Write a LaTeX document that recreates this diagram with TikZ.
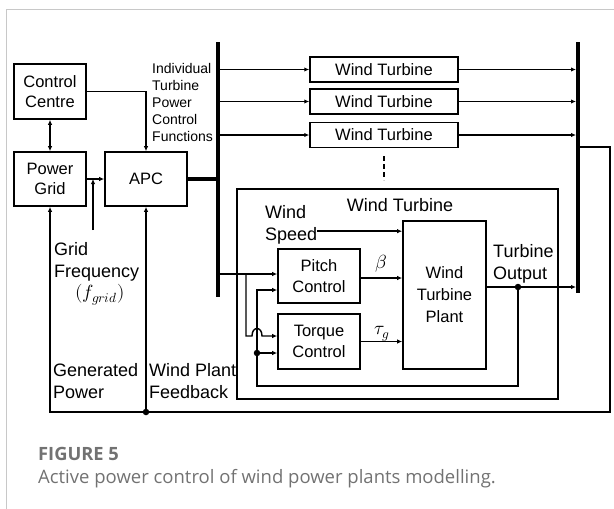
\documentclass[tikz,border=0pt]{standalone}
\usepackage{fontspec}
\usepackage{unicode-math}
\setmainfont{Liberation Sans}
\setmathfont{Latin Modern Math}
\newfontfamily\capfont{Open Sans}
\usetikzlibrary{positioning,arrows.meta,calc}
\definecolor{frameG}{HTML}{C8C8C8}
\definecolor{capG}{HTML}{727272}

\begin{document}
\begin{tikzpicture}[
    x=1pt, y=-1pt,
    >={Latex[length=5pt,width=4.5pt]},
    blk/.style={draw,line width=1.7pt,inner sep=0pt,align=center,
                font=\fontsize{16.5}{20.5}\selectfont},
    lbl/.style={inner sep=0pt,align=left,anchor=north west,
                font=\fontsize{18}{22}\selectfont},
    sym/.style={inner sep=0pt,font=\fontsize{19}{22}\selectfont},
    flow/.style={->,line width=1.4pt},
    bus/.style={line width=4pt},
    jdot/.style={circle,fill,inner sep=0pt,minimum size=6.5pt},
]
\useasboundingbox (0,0) rectangle (614,509);

% page frame (top and left only)
\draw[frameG,line width=1pt] (6,509) -- (6,9) -- (614,9);

% =====================================================================
%  plant level: control centre, grid, APC
% =====================================================================
\node[blk,minimum width=72,minimum height=55] (cc)  at (50,91.5) {Control\\Centre};
\node[blk,minimum width=72,minimum height=54] (pg)  at (50,179)  {Power\\Grid};
\node[blk,minimum width=82,minimum height=54] (apc) at (146,179) {APC};

\draw[<->,line width=1.4pt] (cc) -- (pg);
\draw[flow] (cc.east) -| (apc.north);
\draw[flow] (pg.east) -- (apc.west);

% grid frequency measurement
\coordinate (gf) at (93,230);
\draw[flow] (gf) -- (gf |- pg.east);
\node[lbl] (gfl) at (54,242) {Grid\\Frequency};
\node[sym,anchor=base] (fgr) at (100,298) {$(f_{grid})$};

% =====================================================================
%  busbars and the turbine rows
% =====================================================================
\coordinate (lbT) at (218,42);  \coordinate (lbB) at (218,297);
\coordinate (rbT) at (578,42);  \coordinate (rbB) at (578,293);
\draw[bus] (lbT) -- (lbB);
\draw[bus] (rbT) -- (rbB);
\draw[bus] (apc.east) -- (apc.east -| lbT);

\node[lbl,font=\fontsize{14}{17}\selectfont] (ipc) at (152,63)
     {Individual\\Turbine\\Power\\Control\\Functions};

\foreach \y/\n in {69.5/wt1,101.5/wt2,135/wt3} {
   \node[blk,line width=1.5pt,minimum width=148,minimum height=25] (\n) at (384,\y) {Wind Turbine};
   \draw[flow] (\n.west -| lbT) -- (\n.west);
   \draw[flow,shorten >=2pt] (\n.east) -- (\n.east -| rbT);
}
\draw[line width=1.6pt,dash pattern=on 5pt off 3pt] ([yshift=-8pt]wt3.south) -- ++(0,24);

% =====================================================================
%  one wind turbine in detail
% =====================================================================
\node[draw,line width=1.7pt,minimum width=321,minimum height=210,inner sep=0pt] (wtbox) at (397.5,294) {};
\node[font=\fontsize{18}{22}\selectfont,anchor=base] (wttl) at (400,211) {Wind Turbine};

\node[blk,minimum width=82,minimum height=54] (pitch)  at (319,276)   {Pitch\\Control};
\node[blk,minimum width=82,minimum height=55] (torque) at (319,341.5) {Torque\\Control};
\node[blk,minimum width=83,minimum height=148,font=\fontsize{16.5}{22}\selectfont]
     (plant) at (444.5,295) {Wind\\Turbine\\Plant};

% wind speed input
\node[lbl] (wspd) at (265,205) {Wind\\Speed};
\coordinate (wsout) at ([yshift=13pt]wspd.south east);
\draw[flow] (wsout) -- (wsout -| plant.west);

% actuator signals
\coordinate (beta) at ([yshift=-2pt]pitch.east);
\draw[flow] (beta) -- (beta -| plant.west);
\node[sym,anchor=base] (betal) at (381,268) {$\beta$};
\draw[flow] (torque.east) -- (torque.east -| plant.west);
\node[sym,anchor=base] (taul) at (382,334) {$\tau_g$};

% set-point from the left bus, branch to torque with a hop
\coordinate (pin1) at ([yshift=2pt]pitch.west);
\coordinate (tin1) at ([yshift=5.5pt]torque.west);
\coordinate (br) at (246,274);
\draw[flow] (pin1 -| lbT) -- (pin1);
\draw[flow] (br) -- (br |- tin1) -- (252,336) .. controls (252,326) and (262,326) .. (262,336) -- (tin1);

% turbine output and local feedback
\coordinate (out) at ([yshift=8pt]plant.east);
\draw[flow,shorten >=2pt] (out) -- (out -| rbT);
\node[lbl] (tout) at (493,244) {Turbine\\Output};
\node[jdot] (fbj) at (518,287) {};
\coordinate (fbc) at (257,386);
\coordinate (pin2) at ([yshift=-14pt]pitch.west);
\draw[flow] (fbj) |- (fbc) |- (pin2);
\node[jdot] (tdot) at (257,353) {};
\draw[flow] (tdot) -- (tdot -| torque.west);

% =====================================================================
%  plant feedback to grid and APC
% =====================================================================
\coordinate (rbo) at (578,147);
\coordinate (rc1) at (610,147);
\coordinate (rc2) at (610,412);
\draw[flow] (rbo) -- (rc1) -- (rc2) -| (pg.south);
\node[jdot] (fdot) at (146,412) {};
\draw[flow] (fdot) -- (apc.south);
\node[lbl] (genp) at (53,363) {Generated\\Power};
\node[lbl] (wpf)  at (149,363) {Wind Plant\\Feedback};

% =====================================================================
%  caption
% =====================================================================
\node[font=\capfont\bfseries\fontsize{18.3}{22}\selectfont,text=capG,anchor=base west,inner sep=0pt]
     (fig) at (38,460) {FIGURE 5};
\node[font=\capfont\fontsize{18.5}{22}\selectfont,text=capG,anchor=base west,inner sep=0pt]
     (cap) at (38,483) {Active power control of wind power plants modelling.};

\end{tikzpicture}
\end{document}
